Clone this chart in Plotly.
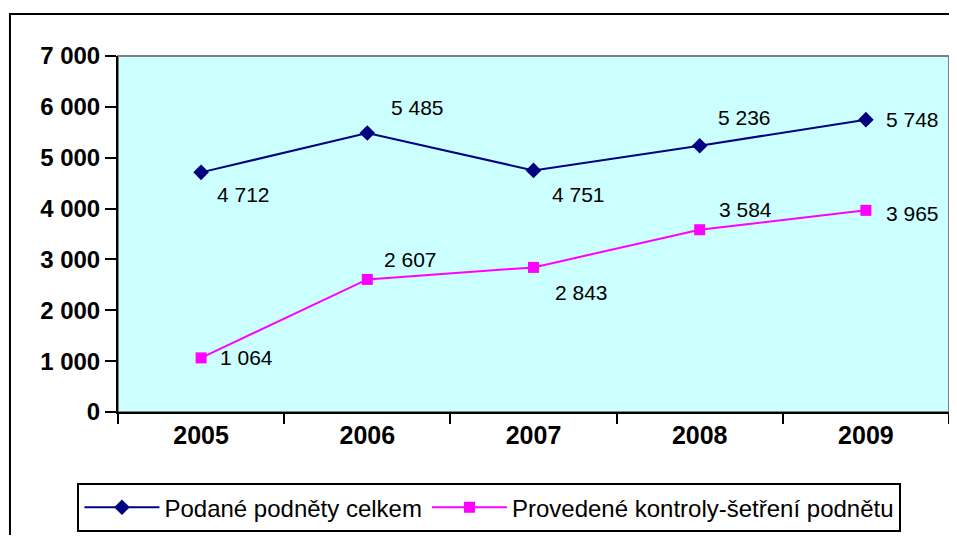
import plotly.graph_objects as go

years = ["2005", "2006", "2007", "2008", "2009"]
podane = [4712, 5485, 4751, 5236, 5748]
provedene = [1064, 2607, 2843, 3584, 3965]

podane_name = "Podané podněty celkem"
provedene_name = "Provedené kontroly-šetření podnětu"

# label offsets (px) per point: (xshift, yshift)
podane_shift = [(14, -22), (22, 26), (16, -24), (16, 28), (18, 0)]
provedene_shift = [(17, 0), (15, 20), (19, -25), (17, 20), (18, -3)]

FONT = "Liberation Sans, Arial, sans-serif"


def fmt(v):
    return f"{v:,}".replace(",", " ")


fig = go.Figure()

fig.add_trace(go.Scatter(
    x=years, y=podane, name=podane_name,
    mode="lines+markers",
    line=dict(color="#000080", width=2),
    marker=dict(symbol="diamond", size=12, color="#000080"),
))
fig.add_trace(go.Scatter(
    x=years, y=provedene, name=provedene_name,
    mode="lines+markers",
    line=dict(color="#FF00FF", width=2),
    marker=dict(symbol="square", size=11, color="#FF00FF"),
))

annotations = []
for vals, shifts in ((podane, podane_shift), (provedene, provedene_shift)):
    for i, (v, (dx, dy)) in enumerate(zip(vals, shifts)):
        annotations.append(dict(
            x=i, y=v, text=fmt(v), showarrow=False,
            xanchor="left", yanchor="middle",
            xshift=dx, yshift=dy,
            font=dict(family=FONT, size=21, color="#000000"),
        ))

shapes = [
    # gray plot-area frame (top/right visible)
    dict(type="rect", xref="paper", yref="paper", x0=0, y0=0, x1=1, y1=1,
         line=dict(color="#808080", width=2), layer="below"),
    # outer chart frame
    dict(type="rect", xref="paper", yref="paper",
         x0=-0.13, y0=-0.5, x1=1.1, y1=1.118,
         line=dict(color="#000000", width=2), layer="below"),
]

# page body adds an 8px margin on every side, so the figure is 16px smaller
fig.update_layout(
    width=941, height=527,
    margin=dict(l=110, r=0, t=48, b=123, autoexpand=False),
    paper_bgcolor="#FFFFFF",
    plot_bgcolor="#CCFFFF",
    separators=", ",
    font=dict(family=FONT, color="#000000"),
    showlegend=True,
    legend=dict(
        orientation="h",
        x=0.447, xanchor="center",
        y=-0.20, yanchor="top",
        bgcolor="#FFFFFF",
        bordercolor="#000000", borderwidth=2,
        font=dict(family=FONT, size=24, color="#000000"),
        itemwidth=75,
        tracegroupgap=0,
    ),
    xaxis=dict(
        type="category",
        tickson="boundaries",
        ticks="outside", ticklen=10, tickwidth=2, tickcolor="#000000",
        showline=True, linecolor="#000000", linewidth=2,
        showgrid=False, zeroline=False, automargin=False,
        tickfont=dict(family=FONT, size=25, color="#000000", weight="bold"),
        range=[-0.5, 4.5],
    ),
    yaxis=dict(
        range=[0, 7000], dtick=1000,
        tickformat=",d",
        ticks="outside", ticklen=11, tickwidth=2, tickcolor="#000000",
        showline=True, linecolor="#000000", linewidth=2,
        showgrid=False, zeroline=False, automargin=False,
        tickfont=dict(family=FONT, size=24, color="#000000", weight="bold"),
    ),
    annotations=annotations,
    shapes=shapes,
)

fig.write_html("out.html")
